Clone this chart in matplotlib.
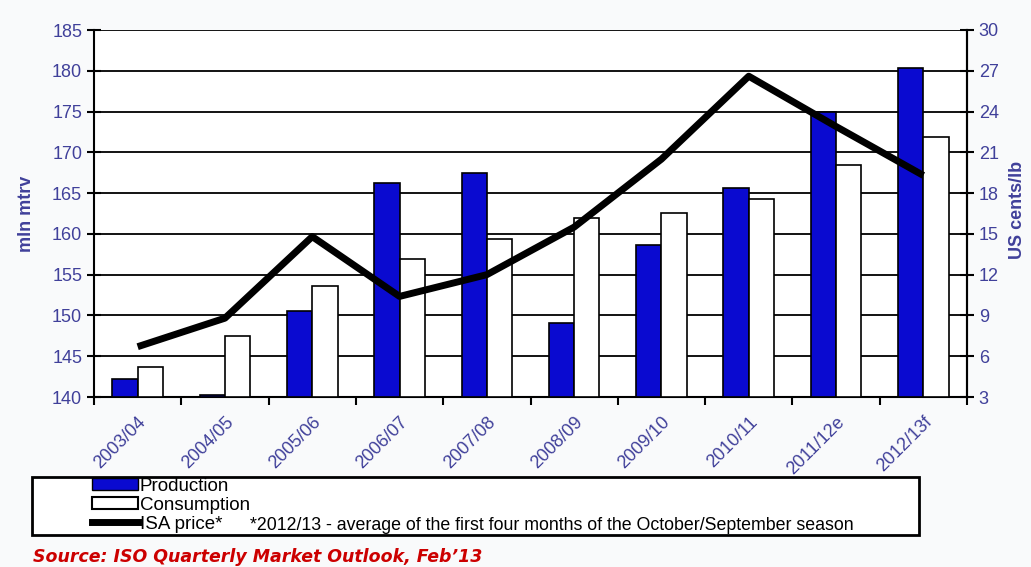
import matplotlib.pyplot as plt
import numpy as np
from matplotlib.patches import Rectangle, Patch
from matplotlib.lines import Line2D

seasons = ["2003/04", "2004/05", "2005/06", "2006/07", "2007/08",
           "2008/09", "2009/10", "2010/11", "2011/12e", "2012/13f"]
production = [142.2, 140.3, 150.6, 166.3, 167.5, 149.1, 158.6, 165.6, 174.9, 180.4]
consumption = [143.7, 147.5, 153.6, 156.9, 159.4, 161.9, 162.6, 164.3, 168.4, 171.9]
isa_price = [6.7, 8.8, 14.8, 10.4, 12.0, 15.5, 20.5, 26.6, 22.9, 19.3]

BLUE = "#0a0ad0"
TXT = "#40409a"
BG = "#f9fafb"
ARIAL = ["Liberation Sans", "DejaVu Sans"]

fig = plt.figure(figsize=(10.31, 5.67), dpi=100, facecolor=BG)
ax = fig.add_axes([94 / 1031, 1 - 397 / 567, (967 - 94) / 1031, (397 - 30) / 567])
ax.set_facecolor("white")

x = np.arange(len(seasons))
w = 0.29
ax.bar(x - w / 2, [p - 140 for p in production], w, bottom=140, color=BLUE,
       edgecolor="black", linewidth=1.2, zorder=3)
ax.bar(x + w / 2, [c - 140 for c in consumption], w, bottom=140, color="white",
       edgecolor="black", linewidth=1.2, zorder=3)

ax.set_ylim(140, 185)
ax.set_xlim(-0.5, len(seasons) - 0.5)
ax.set_yticks(range(140, 186, 5))
ax.yaxis.grid(True, color="black", linewidth=1.3, zorder=0)
ax.set_axisbelow(True)

ax.set_xticks(np.arange(len(seasons) + 1) - 0.5, minor=False)
ax.set_xticklabels([])
ax.set_xticks(x, minor=True)
ax.set_xticklabels(seasons, minor=True, rotation=45, ha="right",
                   rotation_mode="anchor", color=TXT, fontsize=13,
                   family=ARIAL)
ax.tick_params(axis="x", which="minor", length=0, pad=12)
ax.tick_params(axis="x", which="major", direction="out", length=6, width=1.5)
ax.tick_params(axis="y", direction="inout", length=10, width=1.5,
               labelcolor=TXT, labelsize=13)
for lab in ax.get_yticklabels():
    lab.set_family(ARIAL)

ax.spines["top"].set_visible(False)
for s in ["left", "bottom", "right"]:
    ax.spines[s].set_linewidth(1.5)

ax.set_ylabel("mln mtrv", color=TXT, fontsize=13, fontweight="bold",
              labelpad=12, family=ARIAL)

ax2 = ax.twinx()
ax2.plot(x, isa_price, color="black", linewidth=5, solid_capstyle="butt",
         zorder=5)
ax2.set_ylim(3, 30)
ax2.set_yticks(range(3, 31, 3))
ax2.tick_params(axis="y", direction="inout", length=10, width=1.5,
                labelcolor=TXT, labelsize=13)
for lab in ax2.get_yticklabels():
    lab.set_family(ARIAL)
for s in ["top", "left", "bottom"]:
    ax2.spines[s].set_visible(False)
ax2.spines["right"].set_linewidth(1.5)

fig.text(1018 / 1031, 1 - 210 / 567, "US cents/lb", rotation=90, color=TXT,
         fontsize=13, fontweight="bold", ha="center", va="center", family=ARIAL)

# legend box
fig.patches.append(Rectangle((32 / 1031, 1 - 535 / 567), (919 - 32) / 1031,
                             (535 - 477) / 567, transform=fig.transFigure,
                             facecolor="white", edgecolor="black", linewidth=2))
handles = [Patch(facecolor=BLUE, edgecolor="black"),
           Patch(facecolor="white", edgecolor="black", linewidth=1.5),
           Line2D([], [], color="black", linewidth=5)]
fig.legend(handles, ["Production", "Consumption", "ISA price*"],
           loc="upper left", bbox_to_anchor=(92 / 1031, 1 - 478 / 567),
           frameon=False, prop={"family": ARIAL, "size": 13.5},
           handlelength=2.45, handleheight=0.6, handletextpad=0.1,
           labelspacing=0.1, borderpad=0, borderaxespad=0)
fig.text(250 / 1031, 1 - 525 / 567,
         "*2012/13 - average of the first four months of the October/September season",
         fontsize=12.8, va="center", ha="left", family=ARIAL)

fig.text(33 / 1031, 1 - 557 / 567, "Source: ISO Quarterly Market Outlook, Feb\u201913",
         color="#cc0000", fontsize=12.5, fontweight="bold", style="italic",
         va="center", ha="left")

fig.savefig("out.png", dpi=100, facecolor=BG)
